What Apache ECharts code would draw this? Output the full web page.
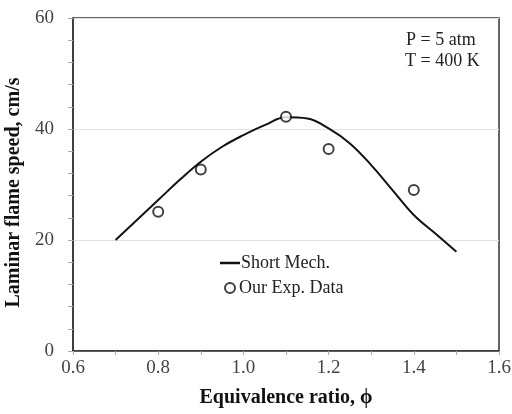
<!DOCTYPE html>
<html><head><meta charset="utf-8">
<script src="https://cdn.jsdelivr.net/npm/echarts@6/dist/echarts.min.js"></script>
<style>html,body{margin:0;padding:0;background:#fff}#c{width:512px;height:414px}</style>
</head><body><div id="c"></div>
<script>
const mechPhi = [0.70,0.75,0.80,0.85,0.90,0.95,1.00,1.05,1.10,1.15,1.20,1.25,1.30,1.35,1.40,1.45,1.50];
const mechSpeed = [20.0,23.6,27.2,30.8,34.1,36.8,38.9,40.7,42.1,41.9,40.1,37.4,33.5,29.0,24.5,21.2,17.9];
const expPhi = [0.8,0.9,1.1,1.2,1.4];
const expSpeed = [25.1,32.7,42.2,36.4,29.0];
const xTicks = [0.6,0.8,1.0,1.2,1.4,1.6];
const yTicks = [0,20,40,60];
const seriesNames = ['Short Mech.','Our Exp. Data'];
const notes = ['P = 5 atm','T = 400 K'];

const font = 'Liberation Serif';
const chart = echarts.init(document.getElementById('c'));
chart.setOption({
  animation:false,
  backgroundColor:'#fff',
  grid:{left:73,right:13,top:18,bottom:63,show:true,borderColor:'#333',borderWidth:1.5,
        containLabel:false,outerBoundsMode:'none'},
  xAxis:{type:'value',min:xTicks[0],max:xTicks[xTicks.length-1],interval:0.2,
    name:'Equivalence ratio, ϕ',nameLocation:'middle',nameGap:37,
    nameTextStyle:{fontFamily:font,fontWeight:'bold',fontSize:20,color:'#111'},
    axisLine:{show:true,onZero:false,lineStyle:{color:'#333',width:1.5}},
    axisTick:{show:true,length:4,lineStyle:{color:'#aaa'}},
    minorTick:{show:true,splitNumber:2,length:4,lineStyle:{color:'#aaa'}},
    splitLine:{show:false},
    axisLabel:{fontFamily:font,fontSize:19,color:'#444',margin:8,formatter:v=>v.toFixed(1)}},
  yAxis:{type:'value',min:yTicks[0],max:yTicks[yTicks.length-1],interval:20,
    name:'Laminar flame speed, cm/s',nameLocation:'middle',nameGap:49,
    nameTextStyle:{fontFamily:font,fontWeight:'bold',fontSize:20,color:'#111',padding:[0,16,0,0]},
    axisLine:{show:true,lineStyle:{color:'#333',width:1.5}},
    axisTick:{show:true,length:5,lineStyle:{color:'#aaa'}},
    minorTick:{show:true,splitNumber:5,length:5,lineStyle:{color:'#aaa'}},
    splitLine:{show:true,lineStyle:{color:'#e2e2e2',width:1}},
    axisLabel:{fontFamily:font,fontSize:19,color:'#444',margin:19}},
  legend:[
    {data:[{name:seriesNames[0],icon:'rect'}],left:220,top:254,padding:0,itemWidth:20,itemHeight:2.5,itemGap:2,
     textStyle:{fontFamily:font,fontSize:18,color:'#222',padding:[0,0,0,-4]}},
    {data:[{name:seriesNames[1],icon:'circle'}],left:224,top:279,padding:0,itemWidth:10,itemHeight:10,
     textStyle:{fontFamily:font,fontSize:18,color:'#222',padding:[0,0,0,-1]}}
  ],
  graphic:[
    {type:'text',left:406,top:31,style:{text:notes[0],fontFamily:font,fontSize:18,fill:'#222'}},
    {type:'text',left:405,top:52,style:{text:notes[1],fontFamily:font,fontSize:18,fill:'#222'}}
  ],
  series:[
    {name:seriesNames[0],type:'line',data:mechPhi.map((p,i)=>[p,mechSpeed[i]]),smooth:0.4,
     symbol:'none',lineStyle:{color:'#111',width:2},itemStyle:{color:'#111'}},
    {name:seriesNames[1],type:'scatter',data:expPhi.map((p,i)=>[p,expSpeed[i]]),symbol:'circle',symbolSize:10,
     itemStyle:{color:'#fff',borderColor:'#111',borderWidth:2},z:5}
  ]
});
</script></body></html>
